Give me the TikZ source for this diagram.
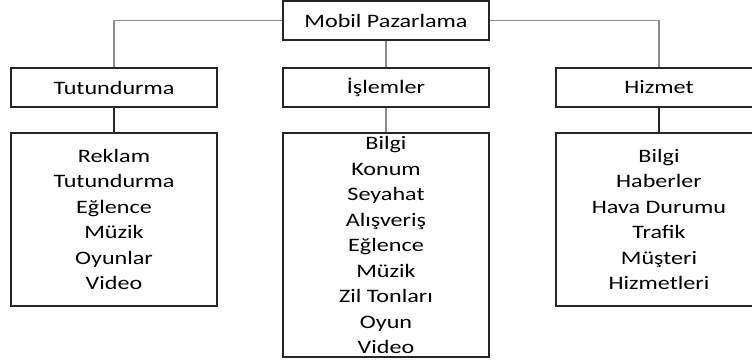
\documentclass[tikz,border=0pt]{standalone}
\usepackage{fontspec}
\setmainfont{Carlito}[FakeStretch=1.27]
\definecolor{hatgri}{HTML}{8C8C8C}
\definecolor{cerceve}{HTML}{262626}
\begin{document}
\begin{tikzpicture}[x=1pt, y=-1pt,
    kutu/.style={draw=cerceve, line width=1.4pt, minimum width=206pt,
                 inner sep=0pt, align=center,
                 font=\fontsize{19}{25.5}\selectfont},
    acik/.style={hatgri, line width=1.4pt},
    koyu/.style={cerceve, line width=1.4pt}]
  \useasboundingbox (0,0) rectangle (752,360);
  % ust seviye
  \node (mp) [kutu, minimum height=39pt] at (386,20.5) {Mobil Pazarlama};
  % ikinci seviye
  \node (tut) [kutu, minimum height=39pt] at (114,87.5) {Tutundurma};
  \node (isl) [kutu, minimum height=39pt] at (386,87.5) {İşlemler};
  \node (hiz) [kutu, minimum height=39pt] at (659,87.5) {Hizmet};
  % alt kutular
  \node (tutl) [kutu, minimum height=173pt] at (114,219.5)
        {Reklam\\Tutundurma\\Eğlence\\Müzik\\Oyunlar\\Video};
  \node (isll) [kutu, minimum height=224pt] at (386,245)
        {Bilgi\\Konum\\Seyahat\\Alışveriş\\Eğlence\\Müzik\\Zil Tonları\\Oyun\\Video};
  \node (hizl) [kutu, minimum height=173pt] at (659,219.5)
        {Bilgi\\Haberler\\Hava Durumu\\Trafik\\Müşteri\\Hizmetleri};
  % baglantilar
  \draw[acik] (mp.west) -| (tut.north)
              (mp.east) -| (hiz.north)
              (mp.south) -- (isl.north)
              (isl.south) -- (isll.north);
  \draw[koyu] (tut.south) -- (tutl.north)
              (hiz.south) -- (hizl.north);
\end{tikzpicture}
\end{document}
